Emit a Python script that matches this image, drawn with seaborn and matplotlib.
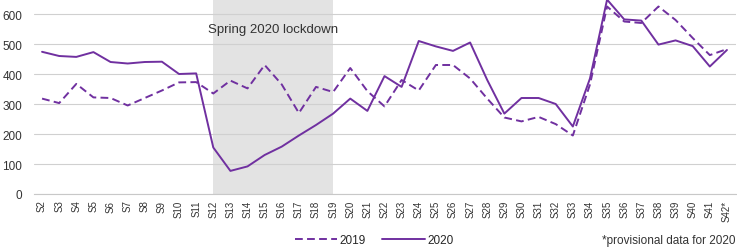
import numpy as np
import pandas as pd
import matplotlib
matplotlib.use('Agg')
import matplotlib.pyplot as plt
import seaborn as sns
from matplotlib.lines import Line2D

weeks = ['S%d' % i for i in range(2, 42)] + ['S42*']

val_2019 = [318, 303, 367, 322, 320, 295, 320, 345, 372, 373,
            335, 378, 352, 430, 365, 270, 357, 340, 420, 343,
            292, 380, 345, 430, 430, 385, 318, 255, 242, 257,
            233, 195, 365, 625, 575, 570, 625, 580, 520, 463, 483]
val_2020 = [474, 460, 457, 473, 440, 435, 440, 441, 400, 402,
            155, 77, 92, 130, 158, 195, 230, 268, 318, 277,
            393, 357, 510, 492, 477, 505, 380, 268, 320, 320,
            300, 225, 385, 648, 582, 578, 498, 512, 493, 425, 480]

lockdown = ('S12', 'S19')
PURPLE = '#7030A0'

df = pd.DataFrame({
    'week': weeks * 2,
    'pos': list(range(len(weeks))) * 2,
    'value': val_2019 + val_2020,
    'year': ['2019'] * len(weeks) + ['2020'] * len(weeks),
})

sns.set_style('white')
plt.rcParams['font.family'] = ['Liberation Sans', 'DejaVu Sans']

fig = plt.figure(figsize=(7.37, 2.51), dpi=100)
ax = fig.add_axes([33.5 / 737, 56 / 251, 702 / 737, 195 / 251])

# zone confinement
x0, x1 = weeks.index(lockdown[0]), weeks.index(lockdown[1])
ax.axvspan(x0, x1, color='#e3e3e3', zorder=0, lw=0)
ax.text((x0 + x1) / 2, 550, 'Spring 2020 lockdown',
        ha='center', va='center', fontsize=9.5, color='#333333')

sns.lineplot(data=df, x='pos', y='value', style='year', ax=ax,
             color=PURPLE, linewidth=1.4, legend=False,
             dashes={'2019': (4, 2.2), '2020': ''}, zorder=3)

ax.set_xlim(-0.5, len(weeks) - 0.5)
ax.set_ylim(0, 650)
ax.set_yticks(range(0, 700, 100))
ax.yaxis.grid(True, color='#d0d0d0', lw=0.8, zorder=1)
ax.set_axisbelow(True)
for s in ['top', 'right', 'left']:
    ax.spines[s].set_visible(False)
ax.spines['bottom'].set_color('#c8c8c8')
ax.set_xticks(range(len(weeks)))
ax.set_xticklabels(weeks, rotation=90, fontsize=7, color='#333333')
ax.set_xticks(np.arange(-0.5, len(weeks), 1), minor=True)
ax.tick_params(axis='x', which='major', length=0, pad=4)
ax.tick_params(axis='x', which='minor', length=4, color='#c8c8c8', direction='out')
ax.tick_params(axis='y', length=0, labelsize=8.5, labelcolor='#333333', pad=8)
ax.set_xlabel('')
ax.set_ylabel('')

handles = [Line2D([], [], color=PURPLE, lw=1.4, dashes=(4, 2.2)),
           Line2D([], [], color=PURPLE, lw=1.4)]
fig.legend(handles, ['2019', '2020'], loc='center', bbox_to_anchor=(374 / 737, 1 - 241 / 251),
           ncol=2, frameon=False, fontsize=8.5, handlelength=3.6, handletextpad=0.2,
           columnspacing=1.4)
fig.text(735 / 737, 1 - 241 / 251, '*provisional data for 2020', ha='right', va='center',
         fontsize=8.5, color='#333333')

fig.savefig('out.png', dpi=100)
